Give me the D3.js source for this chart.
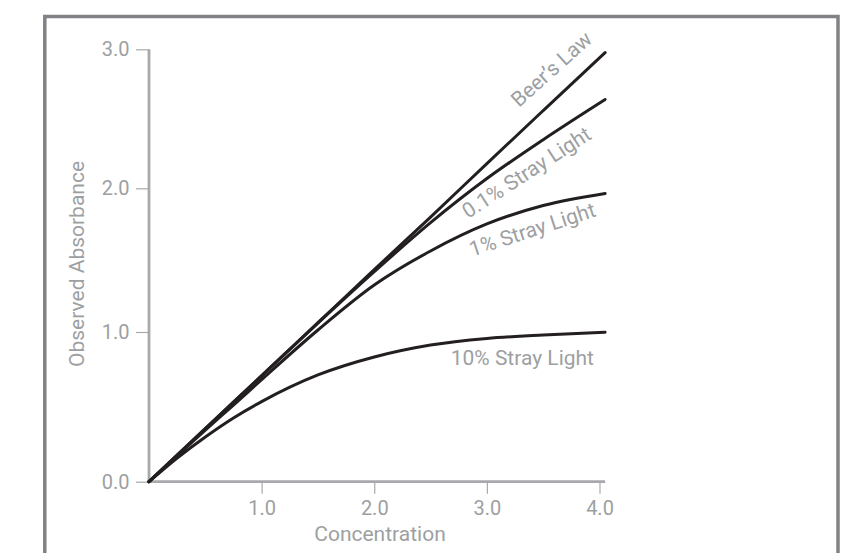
<!DOCTYPE html>
<html>
<head>
<meta charset="utf-8">
<script src="https://cdn.jsdelivr.net/npm/d3@7/dist/d3.min.js"></script>
<style>
  html, body { margin: 0; padding: 0; background: #fff; }
  svg { display: block; }
  text { font-family: Roboto, "Noto Sans", sans-serif; }
</style>
</head>
<body>
<svg id="chart" width="861" height="553"></svg>
<script>
// Concentration sample points (x) and observed absorbance for each curve
const concentration = [0, 0.25, 0.5, 0.75, 1.0, 1.5, 2.0, 2.5, 3.0, 3.5, 4.05];
const beersLaw      = [0, 0.177, 0.354, 0.531, 0.708, 1.065, 1.434, 1.80, 2.178, 2.559, 2.976];
const stray01       = [0, 0.177, 0.354, 0.531, 0.707, 1.062, 1.42, 1.761, 2.07, 2.35, 2.639];
const stray1        = [0, 0.174, 0.345, 0.512, 0.682, 1.014, 1.327, 1.564, 1.752, 1.88, 1.964];
const stray10       = [0, 0.158, 0.299, 0.426, 0.535, 0.713, 0.833, 0.913, 0.957, 0.98, 0.998];

const seriesNames = ["Beer\u2019s Law", "0.1% Stray Light", "1% Stray Light", "10% Stray Light"];
const xTicks = [1.0, 2.0, 3.0, 4.0];
const yTicks = [0.0, 1.0, 2.0, 3.0];
const xTitle = "Concentration";
const yTitle = "Observed Absorbance";

const svg = d3.select("#chart");
const axisColor = "#a7a9ac";
const textColor = "#9d9fa2";

// outer frame (open at the bottom edge of the page)
svg.append("path")
  .attr("d", "M44.8,560 V16.5 H838 V560")
  .attr("fill", "none")
  .attr("stroke", "#808285")
  .attr("stroke-width", 3.5);

const x = d3.scaleLinear().domain([0, 4]).range([149, 599.5]);
// the value axis is laid out with slightly uneven gaps between its gridline values
const y = d3.scaleLinear().domain([0, 1, 2, 3]).range([481.7, 332, 188.3, 49.3]);

// x axis
const gx = svg.append("g").attr("transform", `translate(0,${y(0)})`)
  .call(d3.axisBottom(x).tickValues(xTicks).tickFormat(d3.format(".1f")).tickSize(12).tickSizeOuter(0));
gx.select(".domain").remove();
gx.append("line").attr("x1", x(0)).attr("x2", x(4.05)).attr("stroke", axisColor).attr("stroke-width", 2.8);
gx.selectAll(".tick line").attr("stroke", axisColor).attr("stroke-width", 1.2);
gx.selectAll(".tick text").attr("fill", textColor).attr("font-size", 20).attr("dy", "0.71em").attr("y", 19.5);

// y axis
const gy = svg.append("g").attr("transform", `translate(${x(0)},0)`)
  .call(d3.axisLeft(y).tickValues(yTicks).tickFormat(d3.format(".1f")).tickSize(13).tickSizeOuter(0));
gy.select(".domain").remove();
gy.append("line").attr("y1", y(0)).attr("y2", y(3)).attr("stroke", axisColor).attr("stroke-width", 2.8);
gy.selectAll(".tick line").attr("stroke", axisColor).attr("stroke-width", 1.2);
gy.selectAll(".tick text").attr("fill", textColor).attr("font-size", 20).attr("x", -19.5);

// axis titles
svg.append("text").attr("x", 380).attr("y", 541).attr("text-anchor", "middle")
  .attr("fill", textColor).attr("font-size", 21).text(xTitle);
svg.append("text").attr("transform", "translate(84,264) rotate(-90)").attr("text-anchor", "middle")
  .attr("fill", textColor).attr("font-size", 21).text(yTitle);

// curves
const line = d3.line().x((d, i) => x(concentration[i])).y(d => y(d)).curve(d3.curveMonotoneX);
[beersLaw, stray01, stray1, stray10].forEach(vals => {
  svg.append("path").datum(vals).attr("d", line)
    .attr("fill", "none").attr("stroke", "#231f20").attr("stroke-width", 3)
    .attr("stroke-linecap", "round");
});

// curve labels
const labels = [
  { name: seriesNames[0], px: 519, py: 108, rot: -42, anchor: "start" },
  { name: seriesNames[1], px: 468, py: 219, rot: -33, anchor: "start" },
  { name: seriesNames[2], px: 597, py: 216, rot: -18, anchor: "end" },
  { name: seriesNames[3], px: 594, py: 365, rot: 0, anchor: "end" }
];
labels.forEach(l => {
  svg.append("text").attr("transform", `translate(${l.px},${l.py}) rotate(${l.rot})`)
    .attr("text-anchor", l.anchor).attr("fill", textColor).attr("font-size", 21).text(l.name);
});
</script>
</body>
</html>
